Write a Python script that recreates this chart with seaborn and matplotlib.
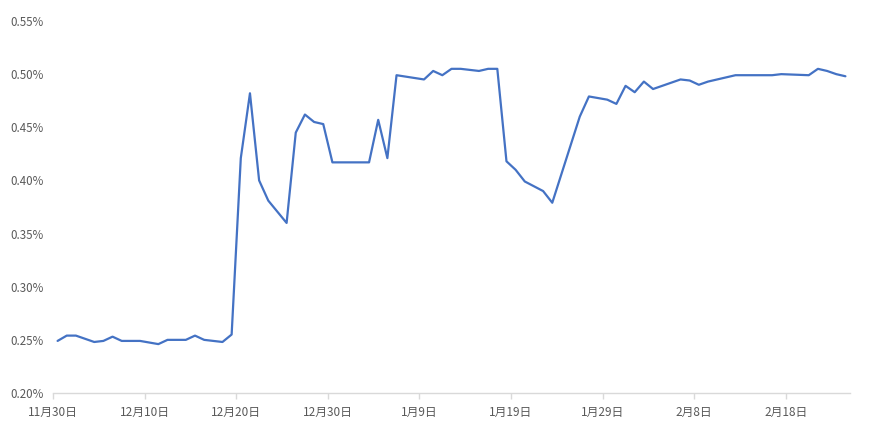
import matplotlib
matplotlib.use("Agg")
import matplotlib.pyplot as plt
import matplotlib.ticker as mticker
import seaborn as sns
import pandas as pd

dates = ["2022-11-30", "2022-12-01", "2022-12-02", "2022-12-04", "2022-12-05", "2022-12-06",
         "2022-12-07", "2022-12-09", "2022-12-11", "2022-12-12", "2022-12-14", "2022-12-15",
         "2022-12-16", "2022-12-18", "2022-12-19", "2022-12-20", "2022-12-21", "2022-12-22",
         "2022-12-23", "2022-12-25", "2022-12-26", "2022-12-27", "2022-12-28", "2022-12-29",
         "2022-12-30", "2023-01-03", "2023-01-04", "2023-01-05", "2023-01-06", "2023-01-09",
         "2023-01-10", "2023-01-11", "2023-01-12", "2023-01-13", "2023-01-15", "2023-01-16",
         "2023-01-17", "2023-01-18", "2023-01-19", "2023-01-20", "2023-01-22", "2023-01-23",
         "2023-01-26", "2023-01-27", "2023-01-29", "2023-01-30", "2023-01-31", "2023-02-01",
         "2023-02-02", "2023-02-03", "2023-02-06", "2023-02-07", "2023-02-08", "2023-02-09",
         "2023-02-12", "2023-02-16", "2023-02-17", "2023-02-20", "2023-02-21", "2023-02-22",
         "2023-02-23", "2023-02-24"]
values = [0.249, 0.254, 0.254, 0.248, 0.249, 0.253,
          0.249, 0.249, 0.246, 0.250, 0.250, 0.254,
          0.250, 0.248, 0.255, 0.421, 0.482, 0.400,
          0.381, 0.360, 0.445, 0.462, 0.455, 0.453,
          0.417, 0.417, 0.457, 0.421, 0.499, 0.495,
          0.503, 0.499, 0.505, 0.505, 0.503, 0.505,
          0.505, 0.418, 0.410, 0.399, 0.390, 0.379,
          0.460, 0.479, 0.476, 0.472, 0.489, 0.483,
          0.493, 0.486, 0.495, 0.494, 0.490, 0.493,
          0.499, 0.499, 0.500, 0.499, 0.505, 0.503,
          0.500, 0.498]
tick_dates = ["2022-11-30", "2022-12-10", "2022-12-20", "2022-12-30", "2023-01-09",
              "2023-01-19", "2023-01-29", "2023-02-08", "2023-02-18"]
y_ticks = [0.20, 0.25, 0.30, 0.35, 0.40, 0.45, 0.50, 0.55]

sns.set_theme(style="white")
plt.rcParams['font.family'] = ['Noto Sans CJK SC', 'DejaVu Sans']

df = pd.DataFrame({
    "date": pd.to_datetime(dates) + pd.Timedelta(hours=12),  # points centred in day cell
    "value": values,
})

fig = plt.figure(figsize=(8.7, 4.36), dpi=100)
ax = fig.add_axes([53 / 870, 1 - 393 / 436, (850 - 53) / 870, (393 - 21) / 436])
sns.lineplot(data=df, x="date", y="value", ax=ax, color="#4472C4", linewidth=1.6)

ax.set_xlim(pd.Timestamp("2022-11-30"), pd.Timestamp("2023-02-25"))
ax.set_ylim(0.20, 0.55)
ax.set_yticks(y_ticks)
ax.yaxis.set_major_formatter(mticker.FuncFormatter(lambda v, p: f"{v:.2f}%"))
ticks = pd.to_datetime(tick_dates)
ax.set_xticks(ticks)
ax.set_xticklabels([f"{d.month}月{d.day}日" for d in ticks])

ax.set_xlabel("")
ax.set_ylabel("")
for s in ["top", "right", "left"]:
    ax.spines[s].set_visible(False)
ax.spines["bottom"].set_color("#D9D9D9")
ax.spines["bottom"].set_linewidth(1)
ax.tick_params(axis="x", which="major", bottom=True, length=4, width=1, color="#D9D9D9",
               labelsize=8.5, labelcolor="#595959", pad=5)
ax.tick_params(axis="y", left=False, length=0, labelsize=8.3, labelcolor="#595959", pad=7)
ax.grid(False)

fig.savefig("out.png", dpi=100)
